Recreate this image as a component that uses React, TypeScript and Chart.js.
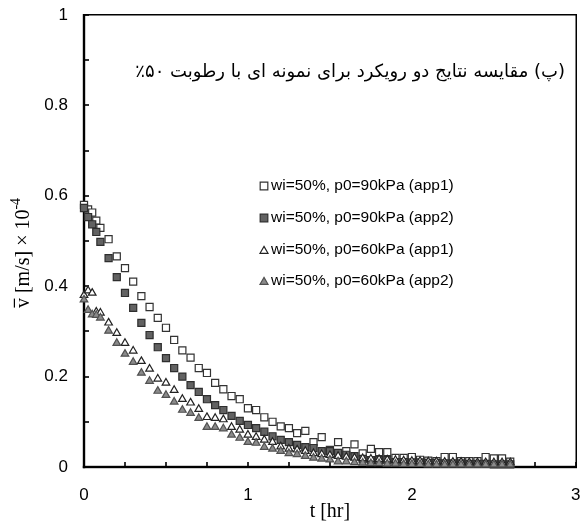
import React, { useEffect, useRef } from "react";
import { Chart, registerables } from "chart.js";

Chart.register(...registerables);

// time axis (hr)
const T: number[] = [
  0, 0.025, 0.05, 0.075, 0.1, 0.15, 0.2, 0.25, 0.3, 0.35, 0.4, 0.45, 0.5, 0.55, 0.6, 0.65, 0.7, 0.75, 0.8, 0.85,
  0.9, 0.95, 1.0, 1.05, 1.1, 1.15, 1.2, 1.25, 1.3, 1.35, 1.4, 1.45, 1.5, 1.55, 1.6, 1.65, 1.7, 1.75, 1.8, 1.85,
  1.9, 1.95, 2.0, 2.05, 2.1, 2.15, 2.2, 2.25, 2.3, 2.35, 2.4, 2.45, 2.5, 2.55, 2.6,
];

// wi=50%, p0=90kPa (app1)
const S90_APP1: number[] = [
  0.58, 0.57, 0.563, 0.545, 0.529, 0.504, 0.466, 0.44, 0.41, 0.378, 0.354, 0.33, 0.308, 0.281, 0.258, 0.242, 0.219, 0.208, 0.186, 0.172,
  0.157, 0.15, 0.13, 0.126, 0.11, 0.1, 0.09, 0.086, 0.075, 0.08, 0.055, 0.066, 0.038, 0.055, 0.035, 0.05, 0.03, 0.04, 0.033, 0.033,
  0.02, 0.02, 0.022, 0.016, 0.014, 0.013, 0.022, 0.022, 0.013, 0.013, 0.013, 0.022, 0.019, 0.019, 0.012,
];

// wi=50%, p0=90kPa (app2)
const S90_APP2: number[] = [
  0.573, 0.553, 0.537, 0.52, 0.498, 0.462, 0.42, 0.385, 0.352, 0.319, 0.292, 0.265, 0.241, 0.219, 0.2, 0.181, 0.166, 0.15, 0.137, 0.126,
  0.113, 0.102, 0.093, 0.086, 0.078, 0.068, 0.06, 0.055, 0.049, 0.044, 0.042, 0.035, 0.035, 0.031, 0.027, 0.024, 0.018, 0.015, 0.015, 0.015,
  0.011, 0.011, 0.01, 0.01, 0.009, 0.009, 0.008, 0.008, 0.008, 0.007, 0.007, 0.007, 0.006, 0.006, 0.006,
];

// wi=50%, p0=60kPa (app1)
const S60_APP1: number[] = [
  0.38, 0.39, 0.385, 0.343, 0.341, 0.319, 0.296, 0.274, 0.257, 0.234, 0.217, 0.195, 0.186, 0.17, 0.15, 0.142, 0.128, 0.11, 0.108, 0.105,
  0.088, 0.082, 0.071, 0.066, 0.06, 0.055, 0.045, 0.04, 0.038, 0.035, 0.03, 0.028, 0.026, 0.024, 0.022, 0.02, 0.019, 0.018, 0.017, 0.016,
  0.015, 0.014, 0.013, 0.013, 0.012, 0.012, 0.011, 0.011, 0.011, 0.01, 0.01, 0.01, 0.01, 0.01, 0.01,
];

// wi=50%, p0=60kPa (app2)
const S60_APP2: number[] = [
  0.37, 0.347, 0.337, 0.336, 0.33, 0.301, 0.274, 0.25, 0.232, 0.208, 0.19, 0.168, 0.159, 0.144, 0.126, 0.119, 0.108, 0.088, 0.088, 0.085,
  0.071, 0.064, 0.055, 0.053, 0.044, 0.04, 0.035, 0.03, 0.028, 0.024, 0.02, 0.018, 0.016, 0.012, 0.012, 0.01, 0.009, 0.008, 0.008, 0.007,
  0.007, 0.006, 0.006, 0.006, 0.005, 0.005, 0.005, 0.005, 0.005, 0.005, 0.005, 0.005, 0.005, 0.005, 0.005,
];

const SERIES_LABELS: string[] = [
  "wi=50%, p0=90kPa (app1)",
  "wi=50%, p0=90kPa (app2)",
  "wi=50%, p0=60kPa (app1)",
  "wi=50%, p0=60kPa (app2)",
];

const Y_TICK_MARKS: number[] = [0, 0.1, 0.2, 0.3, 0.4, 0.5, 0.6, 0.7, 0.8, 0.9, 1];
const X_TICK_MARKS: number[] = [0, 0.25, 0.5, 0.75, 1, 1.25, 1.5, 1.75, 2, 2.25, 2.5, 2.75, 3];

const TITLE_TEXT = "(پ) مقایسه نتایج دو رویکرد برای نمونه ای با رطوبت ۵۰٪";
const X_TITLE = "t [hr]";

const STYLES = [
  { shape: "rect", fill: "#ffffff", stroke: "#333333", radius: 5 },
  { shape: "rect", fill: "#626262", stroke: "#2e2e2e", radius: 5 },
  { shape: "triangle", fill: "#ffffff", stroke: "#222222", radius: 4.4 },
  { shape: "triangle", fill: "#8a8a8a", stroke: "#505050", radius: 4.4 },
];

const SERIES = [S90_APP1, S90_APP2, S60_APP1, S60_APP2];

function drawMarker(ctx: CanvasRenderingContext2D, shape: string, x: number, y: number, r: number, fill: string, stroke: string) {
  ctx.save();
  ctx.fillStyle = fill;
  ctx.strokeStyle = stroke;
  ctx.lineWidth = 1.2;
  ctx.beginPath();
  if (shape === "rect") {
    const s = Math.SQRT1_2 * r;
    ctx.rect(x - s, y - s, 2 * s, 2 * s);
  } else {
    const a = (2 * Math.PI) / 3;
    ctx.moveTo(x, y - r);
    ctx.lineTo(x + Math.sin(a) * r, y - Math.cos(a) * r);
    ctx.lineTo(x + Math.sin(2 * a) * r, y - Math.cos(2 * a) * r);
    ctx.closePath();
  }
  ctx.fill();
  ctx.stroke();
  ctx.restore();
}

function drawFrame(chart: any) {
  const ctx = chart.ctx as CanvasRenderingContext2D;
  const a = chart.chartArea;
  const xs = chart.scales["x"];
  const ys = chart.scales["y"];
  const L = Math.round(a.left);
  const R = Math.round(a.right);
  const TOP = Math.round(a.top);
  const B = Math.round(a.bottom);
  ctx.save();
  ctx.fillStyle = "#000000";
  // top and right borders (thin)
  ctx.fillRect(L, TOP - 1, R - L + 1, 1.5);
  ctx.fillRect(R - 0.5, TOP - 1, 1.5, B - TOP + 2);
  // left and bottom axes (thick)
  ctx.fillRect(L - 1.2, TOP - 1, 2.4, B - TOP + 2.2);
  ctx.fillRect(L - 1.2, B - 1.2, R - L + 2.2, 2.4);
  // inward tick marks
  for (const v of Y_TICK_MARKS) {
    const py = Math.round(ys.getPixelForValue(v));
    ctx.fillRect(L, py - 0.8, 5, 1.6);
  }
  for (const v of X_TICK_MARKS) {
    const px = Math.round(xs.getPixelForValue(v));
    ctx.fillRect(px - 0.8, B - 5, 1.6, 5);
  }
  ctx.restore();
}

const framePlugin = {
  id: "frameTicks",
  beforeDatasetsDraw(chart: any) {
    drawFrame(chart);
  },
  afterDraw(chart: any) {
    const ctx = chart.ctx as CanvasRenderingContext2D;
    const a = chart.chartArea;
    ctx.save();
    // Persian title
    ctx.fillStyle = "#000";
    ctx.font = '18px "DejaVu Sans"';
    ctx.direction = "rtl";
    ctx.textAlign = "right";
    ctx.textBaseline = "middle";
    ctx.fillText(TITLE_TEXT, 565, 72);
    ctx.direction = "ltr";

    // legend
    ctx.font = '15.5px "Liberation Sans"';
    ctx.textAlign = "left";
    ctx.textBaseline = "middle";
    const rows = [186, 218, 250, 281];
    SERIES_LABELS.forEach((lab, i) => {
      const st = STYLES[i];
      drawMarker(ctx, st.shape, 264, rows[i] + (st.shape === "triangle" ? 1 : 0), st.shape === "rect" ? 5.4 : 4.6, st.fill, st.stroke);
      ctx.fillStyle = "#000";
      ctx.fillText(lab, 271, rows[i]);
    });

    // x axis title
    ctx.font = '20px "Liberation Serif"';
    ctx.textAlign = "center";
    ctx.textBaseline = "middle";
    ctx.fillText(X_TITLE, (a.left + a.right) / 2, 512);

    // y axis title: v̄ [m/s] × 10^-4
    ctx.translate(22, 253);
    ctx.rotate(-Math.PI / 2);
    const mainFont = '20px "Liberation Serif"';
    const supFont = '14px "Liberation Serif"';
    ctx.font = mainFont;
    const p1 = "v";
    const p2 = " [m/s] \u00d7 10";
    const p3 = "-4";
    const w1 = ctx.measureText(p1).width;
    const w2 = ctx.measureText(p2).width;
    ctx.font = supFont;
    const w3 = ctx.measureText(p3).width;
    let cx = -(w1 + w2 + w3) / 2;
    ctx.textAlign = "left";
    ctx.textBaseline = "alphabetic";
    ctx.font = mainFont;
    ctx.fillText(p1, cx, 7);
    ctx.fillRect(cx + 0.5, -8.2, w1 - 1, 1.2);
    cx += w1;
    ctx.fillText(p2, cx, 7);
    cx += w2;
    ctx.font = supFont;
    ctx.fillText(p3, cx, -2);
    ctx.restore();
  },
};

function zeroPad(s: any) {
  s.paddingTop = 0;
  s.paddingBottom = 0;
  s.paddingLeft = 0;
  s.paddingRight = 0;
}

export default function App() {
  const ref = useRef<HTMLCanvasElement | null>(null);
  useEffect(() => {
    if (!ref.current) return;
    const datasets = SERIES.map((vals, i) => ({
      label: SERIES_LABELS[i],
      data: T.map((t, k) => ({ x: t, y: vals[k] })),
      showLine: false,
      pointStyle: STYLES[i].shape,
      pointRadius: STYLES[i].radius,
      pointHoverRadius: STYLES[i].radius,
      pointBackgroundColor: STYLES[i].fill,
      pointBorderColor: STYLES[i].stroke,
      pointBorderWidth: 1.2,
      backgroundColor: STYLES[i].fill,
      borderColor: STYLES[i].stroke,
      clip: false as any,
      order: 4 - i,
    }));
    const chart = new Chart(ref.current, {
      type: "scatter",
      data: { datasets: datasets as any },
      options: {
        responsive: false,
        animation: false,
        events: [],
        layout: { padding: { top: 15, right: 6, left: 0, bottom: 0 } },
        plugins: { legend: { display: false }, tooltip: { enabled: false }, title: { display: false } },
        scales: {
          x: {
            type: "linear",
            min: 0,
            max: 3,
            grid: { display: false, drawTicks: false },
            border: { display: false },
            ticks: {
              stepSize: 1,
              padding: 18,
              color: "#000",
              font: { family: "Liberation Sans", size: 17 },
              callback: (v: any) => String(v),
            },
            afterFit: (s: any) => {
              s.height = 55;
              zeroPad(s);
            },
          },
          y: {
            type: "linear",
            min: 0,
            max: 1,
            grid: { display: false, drawTicks: false },
            border: { display: false },
            ticks: {
              stepSize: 0.2,
              padding: 16,
              color: "#000",
              font: { family: "Liberation Sans", size: 17 },
              callback: (v: any) => String(Math.round(v * 10) / 10),
            },
            afterFit: (s: any) => {
              s.width = 84;
              zeroPad(s);
            },
          },
        },
      },
      plugins: [framePlugin],
    });
    return () => chart.destroy();
  }, []);
  return (
    <div style={{ position: "absolute", left: 0, top: 0, width: 582, height: 522, background: "#fff" }}>
      <canvas ref={ref} width={582} height={522} />
    </div>
  );
}
